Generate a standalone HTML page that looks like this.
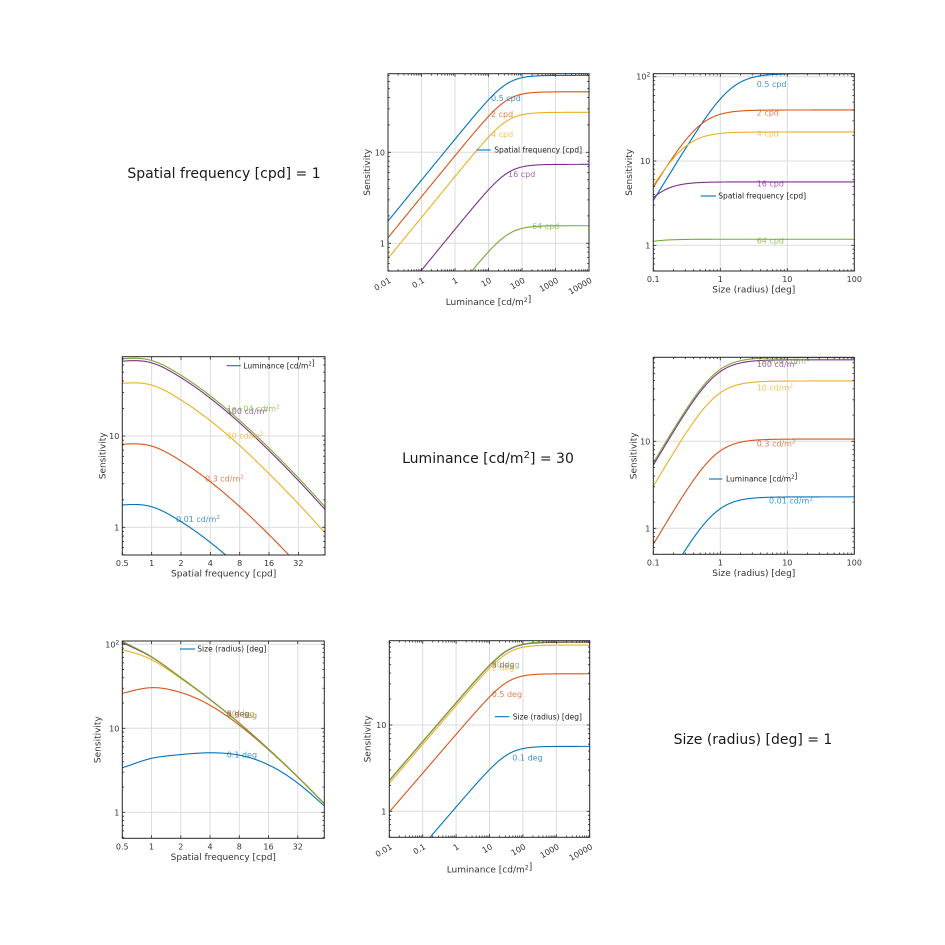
<!DOCTYPE html>
<html>
<head>
<meta charset="utf-8">
<style>
html,body{margin:0;padding:0;background:#fff;}
svg{display:block;font-family:"DejaVu Sans","Liberation Sans",sans-serif;}
</style>
</head>
<body>
<svg id="s" width="945" height="945" viewBox="0 0 945 945" xmlns="http://www.w3.org/2000/svg">
<rect width="945" height="945" fill="#fff"/>
<text x="224" y="178" font-size="14" text-anchor="middle" fill="#1a1a1a">Spatial frequency [cpd] = 1</text>
<text x="488" y="463" font-size="14" text-anchor="middle" fill="#1a1a1a">Luminance [cd/m<tspan dy="-5" font-size="10">2</tspan><tspan dy="5">] = 30</tspan></text>
<text x="753" y="744" font-size="14" text-anchor="middle" fill="#1a1a1a">Size (radius) [deg] = 1</text>
<g id="g"></g>
</svg>
<script>
(function(){
const COL=['#0072BD','#D95319','#EDB120','#7E2F8E','#77AC30'];
function mkH(xs,ys){const U=xs.map(Math.log),V=ys.slice(),n=U.length;
 const M=U.map((u,i)=> i===0?(V[1]-V[0])/(U[1]-U[0]) : i===n-1?(V[n-1]-V[n-2])/(U[n-1]-U[n-2]) : (V[i+1]-V[i-1])/(U[i+1]-U[i-1]));
 return x=>{const u=Math.log(x);
  if(u<=U[0])return V[0]+M[0]*(u-U[0]);
  if(u>=U[n-1])return V[n-1]+M[n-1]*(u-U[n-1]);
  let i=0;while(i<n-2&&U[i+1]<u)i++;
  const h=U[i+1]-U[i],t=(u-U[i])/h,t2=t*t,t3=t2*t;
  return (2*t3-3*t2+1)*V[i]+(t3-2*t2+t)*h*M[i]+(-2*t3+3*t2)*V[i+1]+(t3-t2)*h*M[i+1];};}
const FN=[0.5,1,2,4,8,16,32,64];
const lnA=mkH(FN,[140,91.8,52,28.6,15,7.4,3.48,1.56].map(Math.log));
function gL(L,f){const k=36+4*(1-Math.exp(-f/16));return Math.pow(1+Math.pow(k/L,1.5),-0.3);}
function hR(r,f){const c=r*Math.pow(f,0.76);return Math.pow(1+Math.pow(0.85/c,2.2),-1.3/2.2);}
function S(f,L,r){return Math.exp(lnA(f))*gL(L,f)*hR(r,f);}
function sup(t){return t.replace('²','<tspan dy="-3" font-size="70%">2</tspan><tspan dy="3"></tspan>');}

const FQ=[0.5,2,4,16,64], LU=[0.01,0.3,10,100,10000], RS=[0.1,0.5,2,5,20];
const Lax={xmin:0.01,xmax:10000,xt:[0.01,0.1,1,10,100,1000,10000],xtl:['0.01','0.1','1','10','100','1000','10000'],rot:true,minor:true,xlabel:'Luminance [cd/m²]'};
const Rax={xmin:0.1,xmax:100,xt:[0.1,1,10,100],xtl:['0.1','1','10','100'],rot:false,minor:true,xlabel:'Size (radius) [deg]'};
const Fax={xmin:0.5,xmax:60,xt:[0.5,1,2,4,8,16,32],xtl:['0.5','1','2','4','8','16','32'],rot:false,minor:false,xlabel:'Spatial frequency [cpd]'};

const plots=[
 Object.assign({xl:388,xr:589,yt:73.7,yb:271,y1:243.3,dec:91,ylx:367,xlb:305,
  curves:FQ.map(f=>(L=>S(f,L,1))),
  labs:[['0.5 cpd',491,98],['2 cpd',491,114],['4 cpd',491,134],['16 cpd',508,174],['64 cpd',532,226]],
  leg:[476.7,490.7,150,494.3,'Spatial frequency [cpd]']},Lax),
 Object.assign({xl:653.3,xr:854.3,yt:73.7,yb:271,y1:245.3,dec:84.3,ylx:629,xlb:292.5,
  curves:FQ.map(f=>(r=>S(f,30,r))),
  labs:[['0.5 cpd',756.7,84],['2 cpd',756.7,112.3],['4 cpd',756.7,133.3],['16 cpd',756.7,183.3],['64 cpd',756.7,240.7]],
  leg:[700.7,716,196,718.3,'Spatial frequency [cpd]']},Rax),
 Object.assign({xl:122.3,xr:325,yt:356.7,yb:555,y1:527.3,dec:91.3,ylx:102.3,xlb:576.5,
  curves:LU.map(L=>(f=>S(f,L,1))),
  labs:[['0.01 cd/m²',176,519],['0.3 cd/m²',205,478.3],['10 cd/m²',226.7,435.7],['100 cd/m²',226.7,411],['1e+04 cd/m²',226.7,408.3]],
  leg:[226.7,240.7,365.7,243.3,'Luminance [cd/m²]']},Fax),
 Object.assign({xl:653.3,xr:854.3,yt:357.3,yb:554.3,y1:528.3,dec:87,ylx:633.3,xlb:576,
  curves:LU.map(L=>(r=>S(1,L,r))),
  labs:[['0.01 cd/m²',769,500.7],['0.3 cd/m²',756.7,443.3],['10 cd/m²',756.7,387.3],['100 cd/m²',756.7,364],['1e+04 cd/m²',756.7,361]],
  leg:[709,722.3,479,726,'Luminance [cd/m²]']},Rax),
 Object.assign({xl:122.3,xr:324.3,yt:641,yb:838.3,y1:812.3,dec:84,ylx:97.3,xlb:860,
  curves:RS.map(r=>(f=>S(f,30,r))),
  labs:[['0.1 deg',226.7,754.3],['0.5 deg',226.7,715],['2 deg',226.7,713.3],['5 deg',226.7,713.3],['20 deg',226.7,713.3]],
  leg:[180,195,649,197.3,'Size (radius) [deg]']},Fax),
 Object.assign({xl:389.3,xr:589.7,yt:640.7,yb:837.3,y1:811.3,dec:86.3,ylx:367.3,xlb:872.5,
  curves:RS.map(r=>(L=>S(1,L,r))),
  labs:[['0.1 deg',512.3,757.3],['0.5 deg',491.7,694],['2 deg',491.7,667.7],['5 deg',491.7,664.3],['20 deg',491.7,664.3]],
  leg:[495,509.3,716.7,512.7,'Size (radius) [deg]']},Lax)
];

let s='';
plots.forEach((P,pi)=>{
 const LX=Math.log(P.xmin),RX=Math.log(P.xmax);
 const lx=v=>P.xl+(Math.log(v)-LX)/(RX-LX)*(P.xr-P.xl);
 const ly=v=>P.y1-P.dec*Math.log10(v);
 s+=`<clipPath id="c${pi}"><rect x="${P.xl}" y="${P.yt}" width="${P.xr-P.xl}" height="${P.yb-P.yt}"/></clipPath>`;
 P.xt.forEach(v=>{const x=lx(v);if(x>P.xl+0.5&&x<P.xr-0.5)s+=`<line x1="${x}" y1="${P.yt}" x2="${x}" y2="${P.yb}" stroke="#dcdcdc" stroke-width="1"/>`;});
 const decs=[0.1,1,10,100,1000];
 decs.forEach(v=>{const y=ly(v);if(y>P.yt+0.5&&y<P.yb-0.5)s+=`<line x1="${P.xl}" y1="${y}" x2="${P.xr}" y2="${y}" stroke="#dcdcdc" stroke-width="1"/>`;});
 P.curves.forEach((fn,i)=>{let d='';const N=400;
  for(let k=0;k<=N;k++){const v=Math.exp(LX+k/N*(RX-LX));let y=ly(fn(v));
   if(!isFinite(y)||y>P.yb+60)y=P.yb+60;if(y<P.yt-60)y=P.yt-60;
   d+=(k?'L':'M')+lx(v).toFixed(2)+' '+y.toFixed(2);}
  s+=`<path d="${d}" fill="none" stroke="${COL[i]}" stroke-width="1.1" stroke-linejoin="round" clip-path="url(#c${pi})"/>`;});
 P.labs.forEach((l,i)=>{s+=`<text x="${l[1]}" y="${l[2]+3}" font-size="8" fill="${COL[i]}" fill-opacity="0.75">${sup(l[0])}</text>`;});
 const g=P.leg;
 s+=`<line x1="${g[0]}" y1="${g[2]}" x2="${g[1]}" y2="${g[2]}" stroke="${COL[0]}" stroke-width="1.1"/>`;
 s+=`<text x="${g[3]}" y="${g[2]+2.7}" font-size="7.5" fill="#222">${sup(g[4])}</text>`;
 s+=`<rect x="${P.xl}" y="${P.yt}" width="${P.xr-P.xl}" height="${P.yb-P.yt}" fill="none" stroke="#262626" stroke-width="1"/>`;
 const tk=(x1,y1,x2,y2)=>{s+=`<line x1="${x1}" y1="${y1}" x2="${x2}" y2="${y2}" stroke="#262626" stroke-width="0.8"/>`;};
 P.xt.forEach(v=>{const x=lx(v);tk(x,P.yb,x,P.yb-3);tk(x,P.yt,x,P.yt+3);});
 if(P.minor){for(let d=Math.floor(Math.log10(P.xmin));d<=Math.ceil(Math.log10(P.xmax));d++){for(let m=2;m<=9;m++){const v=m*Math.pow(10,d);if(v>P.xmin&&v<P.xmax){const x=lx(v);tk(x,P.yb,x,P.yb-1.8);tk(x,P.yt,x,P.yt+1.8);}}}}
 decs.forEach(v=>{const y=ly(v);if(y>=P.yt-0.5&&y<=P.yb+0.5){tk(P.xl,y,P.xl+3,y);tk(P.xr,y,P.xr-3,y);}});
 for(let d=-1;d<=2;d++){for(let m=2;m<=9;m++){const v=m*Math.pow(10,d);const y=ly(v);if(y>P.yt&&y<P.yb){tk(P.xl,y,P.xl+1.8,y);tk(P.xr,y,P.xr-1.8,y);}}}
 [[1,'1'],[10,'10'],[100,'10<tspan dy="-3" font-size="6">2</tspan>']].forEach(([v,t])=>{const y=ly(v);if(y>=P.yt-1&&y<=P.yb+0.5){s+=`<text x="${P.xl-3}" y="${y+3}" font-size="8" text-anchor="end" fill="#333">${t}</text>`;}});
 P.xt.forEach((v,i)=>{const x=lx(v);
  if(P.rot)s+=`<text transform="translate(${(x+3.5).toFixed(2)},${P.yb+11}) rotate(-30)" font-size="8" text-anchor="end" fill="#333">${P.xtl[i]}</text>`;
  else s+=`<text x="${x}" y="${P.yb+11}" font-size="8" text-anchor="middle" fill="#333">${P.xtl[i]}</text>`;});
 s+=`<text x="${(P.xl+P.xr)/2}" y="${P.xlb}" font-size="9" text-anchor="middle" fill="#333">${sup(P.xlabel)}</text>`;
 s+=`<text transform="translate(${P.ylx+3},${(P.yt+P.yb)/2}) rotate(-90)" font-size="9" text-anchor="middle" fill="#333">Sensitivity</text>`;
});
document.getElementById('g').innerHTML=s;
})();
</script>
</body>
</html>
